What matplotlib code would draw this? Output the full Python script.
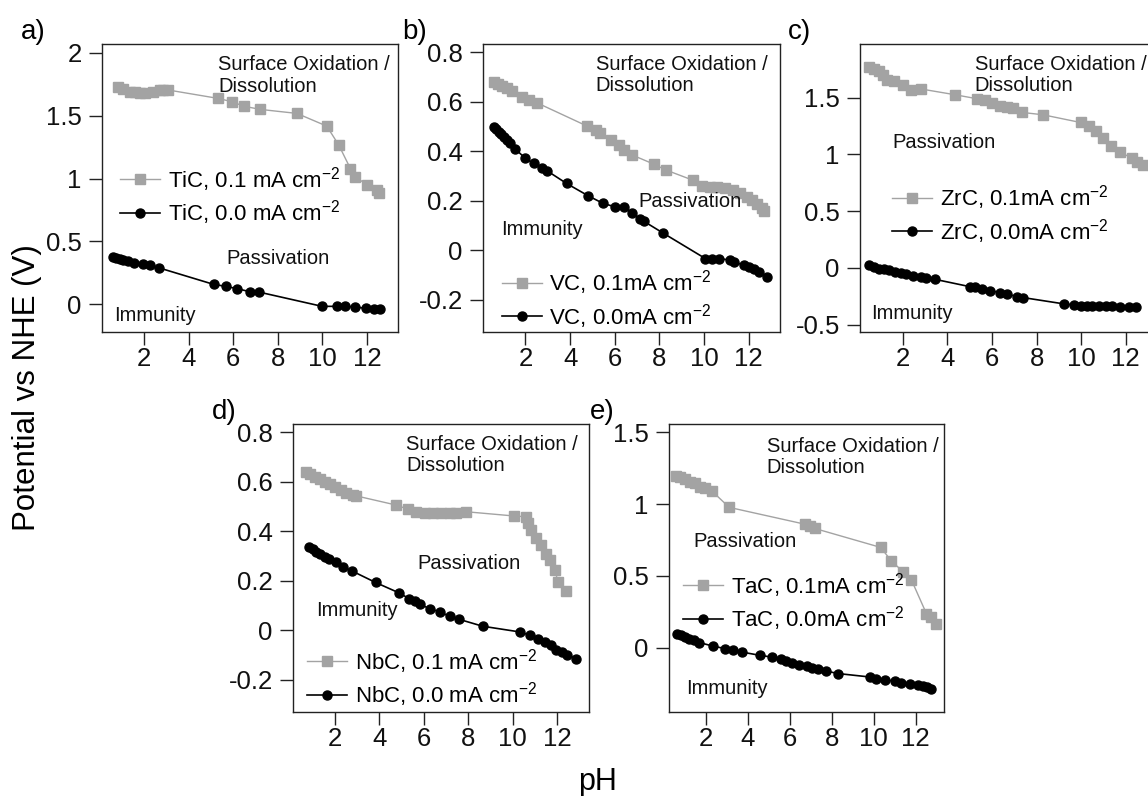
import numpy as np
import matplotlib
matplotlib.use("Agg")
import matplotlib.pyplot as plt
from matplotlib.ticker import FormatStrFormatter

plt.rcParams['font.family'] = ['Liberation Sans', 'DejaVu Sans']
plt.rcParams['mathtext.fontset'] = 'custom'
plt.rcParams['mathtext.rm'] = 'Liberation Sans'
plt.rcParams['mathtext.default'] = 'regular'
plt.rcParams['axes.unicode_minus'] = False

# TiC
tic_ph_01 = [0.83, 1.05, 1.36, 1.58, 1.81, 2.03, 2.41, 2.71, 2.86, 3.08, 5.33, 5.94, 6.46, 7.21,
             8.86, 10.2, 10.74, 11.26, 11.49, 12.02, 12.47, 12.54]
tic_v_01 = [1.725, 1.709, 1.69, 1.685, 1.683, 1.683, 1.69, 1.704, 1.704, 1.704, 1.637, 1.611,
            1.576, 1.55, 1.518, 1.417, 1.266, 1.08, 1.014, 0.947, 0.913, 0.886]
tic_ph_00 = [0.6, 0.75, 0.9, 1.05, 1.28, 1.54, 1.96, 2.26, 2.68, 5.11, 5.66, 6.16, 6.73, 7.14,
             9.99, 10.64, 11.04, 11.49, 11.94, 12.32, 12.61]
tic_v_00 = [0.377, 0.369, 0.361, 0.35, 0.342, 0.332, 0.318, 0.31, 0.289, 0.159, 0.143, 0.125,
            0.101, 0.098, -0.016, -0.016, -0.016, -0.021, -0.032, -0.037, -0.04]

# VC
vc_ph_01 = [0.58, 0.76, 0.96, 1.18, 1.41, 1.85, 2.15, 2.52, 4.76, 5.14, 5.36, 5.81, 6.18, 6.40,
            6.78, 7.75, 8.30, 9.5, 9.9, 10.25, 10.6, 10.95, 11.3, 11.6, 11.9, 12.15, 12.38, 12.6, 12.7]
vc_v_01 = [0.681, 0.672, 0.664, 0.655, 0.645, 0.621, 0.607, 0.596, 0.502, 0.486, 0.472, 0.445,
           0.425, 0.405, 0.385, 0.348, 0.324, 0.283, 0.260, 0.257, 0.255, 0.251, 0.243, 0.232,
           0.214, 0.202, 0.186, 0.170, 0.160]
vc_ph_00 = [0.58, 0.70, 0.81, 0.91, 1.03, 1.18, 1.30, 1.55, 2.0, 2.37, 2.75, 2.97, 3.84, 4.81,
            5.48, 6.03, 6.40, 6.78, 7.12, 7.30, 8.15, 10.06, 10.36, 10.66, 11.18, 11.33, 11.78,
            12.0, 12.23, 12.45, 12.83]
vc_v_00 = [0.497, 0.489, 0.479, 0.470, 0.459, 0.445, 0.432, 0.409, 0.371, 0.351, 0.333, 0.321,
           0.270, 0.220, 0.189, 0.175, 0.175, 0.151, 0.128, 0.117, 0.070, -0.034, -0.034, -0.034,
           -0.040, -0.047, -0.061, -0.070, -0.078, -0.088, -0.108]

# ZrC
zrc_ph_01 = [0.50, 0.72, 0.95, 1.10, 1.28, 1.62, 2.0, 2.38, 2.83, 4.33, 5.31, 5.68, 5.98, 6.36,
             6.66, 6.96, 7.34, 8.29, 9.97, 10.34, 10.65, 10.99, 11.32, 11.74, 12.30, 12.52, 12.75]
zrc_v_01 = [1.771, 1.753, 1.733, 1.703, 1.659, 1.644, 1.615, 1.571, 1.577, 1.527, 1.492, 1.477,
            1.453, 1.430, 1.415, 1.409, 1.371, 1.350, 1.282, 1.247, 1.203, 1.145, 1.071, 1.018,
            0.968, 0.938, 0.909]
zrc_ph_00 = [0.50, 0.72, 0.95, 1.17, 1.40, 1.63, 1.92, 2.15, 2.45, 2.83, 3.05, 3.43, 5.0, 5.23,
             5.53, 5.91, 6.36, 6.66, 7.11, 7.41, 9.25, 9.70, 10.0, 10.27, 10.50, 10.79, 11.10,
             11.38, 11.74, 12.15, 12.45]
zrc_v_00 = [0.026, 0.006, -0.006, -0.012, -0.018, -0.032, -0.047, -0.056, -0.071, -0.082, -0.091,
            -0.100, -0.165, -0.170, -0.188, -0.200, -0.218, -0.229, -0.253, -0.262, -0.318,
            -0.327, -0.333, -0.335, -0.335, -0.335, -0.335, -0.335, -0.341, -0.347, -0.347]

# NbC
nbc_ph_01 = [0.73, 0.88, 1.10, 1.33, 1.55, 1.78, 2.0, 2.30, 2.53, 2.82, 2.98, 4.77, 5.30, 5.67,
             6.05, 6.42, 6.80, 7.17, 7.47, 7.92, 10.05, 10.58, 10.69, 10.84, 11.06, 11.29, 11.48,
             11.69, 11.89, 12.04, 12.4]
nbc_v_01 = [0.641, 0.632, 0.621, 0.610, 0.601, 0.591, 0.578, 0.567, 0.556, 0.547, 0.543, 0.506,
            0.489, 0.479, 0.476, 0.475, 0.475, 0.475, 0.475, 0.479, 0.462, 0.459, 0.432, 0.405,
            0.371, 0.344, 0.310, 0.283, 0.243, 0.196, 0.160]
nbc_ph_00 = [0.85, 1.03, 1.18, 1.36, 1.55, 1.75, 2.04, 2.37, 2.79, 3.84, 4.89, 5.34, 5.60, 5.85,
             6.27, 6.72, 7.17, 7.59, 8.65, 10.31, 10.76, 11.14, 11.44, 11.74, 11.96, 12.2, 12.45,
             12.85]
nbc_v_00 = [0.337, 0.327, 0.317, 0.308, 0.297, 0.286, 0.274, 0.256, 0.239, 0.193, 0.151, 0.128,
            0.117, 0.104, 0.087, 0.074, 0.056, 0.044, 0.016, -0.007, -0.020, -0.034, -0.047,
            -0.061, -0.081, -0.090, -0.100, -0.115]

# TaC
tac_ph_01 = [0.57, 0.76, 1.0, 1.24, 1.48, 1.71, 1.95, 2.27, 3.11, 6.71, 6.95, 7.19, 10.33, 10.84,
             11.40, 11.79, 12.51, 12.75, 12.98]
tac_v_01 = [1.195, 1.191, 1.174, 1.156, 1.144, 1.117, 1.109, 1.093, 0.977, 0.860, 0.846, 0.830,
            0.698, 0.604, 0.528, 0.474, 0.237, 0.214, 0.167]
tac_ph_00 = [0.63, 0.79, 1.0, 1.21, 1.43, 1.68, 2.32, 2.90, 3.30, 3.70, 4.57, 5.13, 5.56, 5.84,
             6.08, 6.44, 6.83, 7.08, 7.35, 7.71, 8.30, 9.81, 10.13, 10.52, 11.0, 11.32, 11.71,
             12.11, 12.35, 12.54, 12.75]
tac_v_00 = [0.098, 0.086, 0.074, 0.063, 0.051, 0.035, 0.011, -0.007, -0.019, -0.031, -0.054,
            -0.066, -0.082, -0.094, -0.105, -0.119, -0.128, -0.140, -0.151, -0.163, -0.181,
            -0.205, -0.216, -0.223, -0.235, -0.244, -0.256, -0.263, -0.270, -0.275, -0.286]

W, H = 1148, 796
fig = plt.figure(figsize=(W / 100, H / 100), dpi=100)

def px_axes(left, top, width, height):
    return fig.add_axes([left / W, 1 - (top + height) / H, width / W, height / H])

GRAY = '#a3a3a3'

panels = [
    dict(tag='a)', tagdx=81, rect=(102, 44, 296, 288), xlim=(0.1, 13.4), ylim=(-0.22, 2.07),
         yticks=[0, 0.5, 1, 1.5, 2], d01=(tic_ph_01, tic_v_01), d00=(tic_ph_00, tic_v_00),
         names=('TiC, 0.1 mA cm$^{-2}$', 'TiC, 0.0 mA cm$^{-2}$'), leg=(0.061, 0.473),
         surf=(5.33, 1.98), pas=(5.71, 0.364), imm=(0.64, -0.088)),
    dict(tag='b)', tagdx=81, rect=(483, 44, 297, 288), xlim=(0.1, 13.4), ylim=(-0.331, 0.834),
         yticks=[-0.2, 0, 0.2, 0.4, 0.6, 0.8], d01=(vc_ph_01, vc_v_01), d00=(vc_ph_00, vc_v_00),
         names=('VC, 0.1mA cm$^{-2}$', 'VC, 0.0mA cm$^{-2}$'), leg=(0.063, 0.113),
         surf=(5.14, 0.789), pas=(7.08, 0.196), imm=(0.91, 0.084)),
    dict(tag='c)', tagdx=72, rect=(860, 44, 297, 288), xlim=(0.08, 13.4), ylim=(-0.565, 1.974),
         yticks=[-0.5, 0, 0.5, 1, 1.5], d01=(zrc_ph_01, zrc_v_01), d00=(zrc_ph_00, zrc_v_00),
         names=('ZrC, 0.1mA cm$^{-2}$', 'ZrC, 0.0mA cm$^{-2}$'), leg=(0.107, 0.408),
         surf=(5.23, 1.88), pas=(1.55, 1.106), imm=(0.57, -0.40)),
    dict(tag='d)', tagdx=81, rect=(293, 424, 296, 288), xlim=(0.13, 13.43), ylim=(-0.331, 0.834),
         yticks=[-0.2, 0, 0.2, 0.4, 0.6, 0.8], d01=(nbc_ph_01, nbc_v_01), d00=(nbc_ph_00, nbc_v_00),
         names=('NbC, 0.1 mA cm$^{-2}$', 'NbC, 0.0 mA cm$^{-2}$'), leg=(0.048, 0.119),
         surf=(5.22, 0.789), pas=(5.70, 0.27), imm=(1.15, 0.081)),
    dict(tag='e)', tagdx=79, rect=(669, 424, 275, 288), xlim=(0.24, 13.35), ylim=(-0.449, 1.558),
         yticks=[0, 0.5, 1, 1.5], d01=(tac_ph_01, tac_v_01), d00=(tac_ph_00, tac_v_00),
         names=('TaC, 0.1mA cm$^{-2}$', 'TaC, 0.0mA cm$^{-2}$'), leg=(0.052, 0.382),
         surf=(4.89, 1.47), pas=(1.40, 0.737), imm=(1.08, -0.286)),
]

for p in panels:
    ax = px_axes(*p['rect'])
    ax.plot(p['d01'][0], p['d01'][1], color=GRAY, marker='s', ms=6.5, lw=1.0,
            label=p['names'][0])
    ax.plot(p['d00'][0], p['d00'][1], color='black', marker='o', ms=6.5, lw=1.2,
            label=p['names'][1])
    ax.set_xlim(*p['xlim'])
    ax.set_ylim(*p['ylim'])
    ax.set_xticks([2, 4, 6, 8, 10, 12])
    ax.set_yticks(p['yticks'])
    ax.yaxis.set_major_formatter(FormatStrFormatter('%g'))
    ax.tick_params(direction='out', length=9.5, width=1.0, labelsize=18.5, colors='#222222',
                   labelcolor='#111111')
    ax.tick_params(axis='y', pad=5)
    ax.tick_params(axis='x', pad=1.5)
    for s in ax.spines.values():
        s.set_linewidth(1.0)
        s.set_color('#222222')

    ax.text(*p['surf'], 'Surface Oxidation /\nDissolution', fontsize=14.5, ha='left', va='top',
            linespacing=1.15, color='#111111')
    ax.text(*p['pas'], 'Passivation', fontsize=14.5, ha='left', va='center', color='#111111')
    ax.text(*p['imm'], 'Immunity', fontsize=14.5, ha='left', va='center', color='#111111')

    ax.legend(loc='center left', bbox_to_anchor=p['leg'], frameon=False, fontsize=16,
              handlelength=1.8, handletextpad=0.35, labelspacing=0.2, borderpad=0,
              borderaxespad=0)

    l, t = p['rect'][0], p['rect'][1]
    fig.text((l - p['tagdx']) / W, 1 - (t - 12) / H, p['tag'], fontsize=20, ha='left',
             va='center')

fig.text(27 / W, 1 - 388 / H, 'Potential vs NHE (V)', rotation=90, fontsize=22.5,
         ha='center', va='center')
fig.text(598 / W, 1 - 782 / H, 'pH', fontsize=22, ha='center', va='center')

fig.savefig('out.png', dpi=100)
